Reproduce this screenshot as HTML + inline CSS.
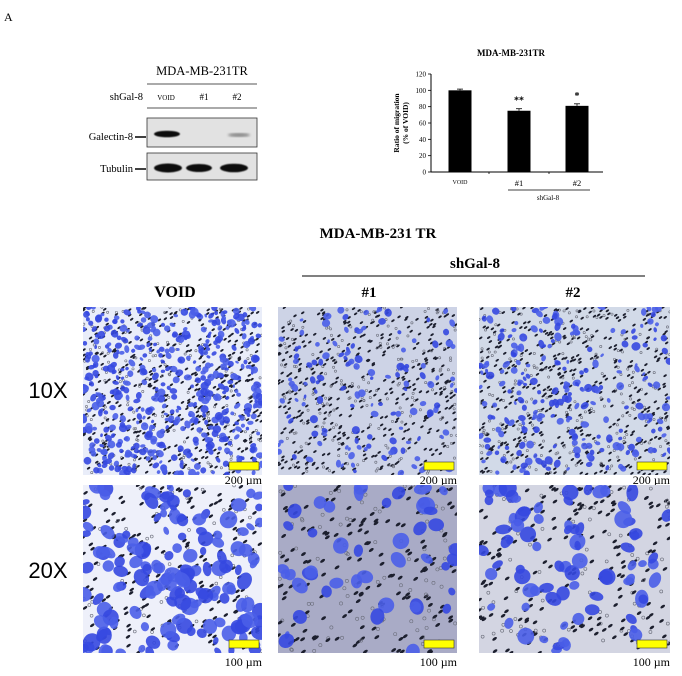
<!DOCTYPE html>
<html><head><meta charset="utf-8"><style>
html,body{margin:0;padding:0;background:#fff;}
body{width:682px;height:676px;position:relative;overflow:hidden;font-family:"Liberation Serif",serif;}
.t{position:absolute;white-space:nowrap;color:#000;}
</style></head><body>
<div class="t" style="left:4px;top:10px;font-size:12px;">A</div>

<svg width="682" height="676" style="position:absolute;left:0;top:0" font-family="Liberation Serif, serif">
  <defs>
    <filter id="blur1"><feGaussianBlur stdDeviation="1.2"/></filter>
    <filter id="blur2"><feGaussianBlur stdDeviation="0.6"/></filter>
  </defs>
  <text x="202" y="75" font-size="12.5" text-anchor="middle">MDA-MB-231TR</text>
  <line x1="147" y1="84" x2="257" y2="84" stroke="#555" stroke-width="1"/>
  <text x="143" y="100" font-size="10.5" text-anchor="end">shGal-8</text>
  <text x="166" y="100" font-size="7" text-anchor="middle">VOID</text>
  <text x="204" y="100" font-size="9" text-anchor="middle">#1</text>
  <text x="237" y="100" font-size="9" text-anchor="middle">#2</text>
  <line x1="147" y1="108" x2="257" y2="108" stroke="#555" stroke-width="1"/>
  <rect x="147" y="118" width="110" height="29" fill="#e2e2e2" stroke="#333" stroke-width="0.8"/>
  <rect x="147" y="153" width="110" height="27" fill="#e2e2e2" stroke="#333" stroke-width="0.8"/>
  <ellipse cx="167" cy="134" rx="13" ry="3.3" fill="#111" filter="url(#blur2)"/>
  <ellipse cx="239" cy="135" rx="11" ry="2" fill="#888" filter="url(#blur1)"/>
  <ellipse cx="168" cy="168" rx="14" ry="4.5" fill="#111" filter="url(#blur2)"/>
  <ellipse cx="199" cy="168" rx="13" ry="4" fill="#111" filter="url(#blur2)"/>
  <ellipse cx="234" cy="168" rx="14" ry="4.3" fill="#111" filter="url(#blur2)"/>
  <text x="133" y="140" font-size="10.5" text-anchor="end">Galectin-8</text>
  <line x1="135" y1="137" x2="146" y2="137" stroke="#000" stroke-width="1.5"/>
  <text x="133" y="172" font-size="10.5" text-anchor="end">Tubulin</text>
  <line x1="135" y1="169" x2="146" y2="169" stroke="#000" stroke-width="1.5"/>
</svg>

<svg id="bar" width="682" height="676" style="position:absolute;left:0;top:0" font-family="Liberation Serif, serif"></svg>

<svg id="micro" width="682" height="676" style="position:absolute;left:0;top:0" font-family="Liberation Serif, serif">
  <text x="378" y="238" font-size="15" font-weight="bold" text-anchor="middle">MDA-MB-231 TR</text>
  <text x="475" y="268" font-size="15" font-weight="bold" text-anchor="middle">shGal-8</text>
  <line x1="302" y1="276" x2="645" y2="276" stroke="#000" stroke-width="1"/>
  <text x="175" y="297" font-size="16" font-weight="bold" text-anchor="middle">VOID</text>
  <text x="369" y="297" font-size="15" font-weight="bold" text-anchor="middle">#1</text>
  <text x="573" y="297" font-size="15" font-weight="bold" text-anchor="middle">#2</text>
  <text x="48" y="398" font-size="22" font-family="Liberation Sans, sans-serif" text-anchor="middle">10X</text>
  <text x="48" y="578" font-size="22" font-family="Liberation Sans, sans-serif" text-anchor="middle">20X</text>
</svg>

<script>
// Bar chart data
const categories = ["VOID", "#1", "#2"];
const values = [100, 75, 81];
const errors = [1.5, 2.5, 2.5];
const stars = ["", "**", "*"];
const yTicks = [0, 20, 40, 60, 80, 100, 120];

const NS = "http://www.w3.org/2000/svg";
function mk(parent, tag, attrs, text){
  const e = document.createElementNS(NS, tag);
  for (const k in attrs) e.setAttribute(k, attrs[k]);
  if (text !== undefined) e.textContent = text;
  parent.appendChild(e);
  return e;
}
const bar = document.getElementById('bar');
const y0 = 172, yTop = 74, yMax = 120;
function yS(v){ return y0 - (v / yMax) * (y0 - yTop); }
const xLeft = 431, xRight = 603;
const centers = [460, 519, 577];
function xS(i){ return centers[i]; }

const title = mk(bar, 'text', {x: 511, y: 56, 'font-size': 9, 'font-weight': 'bold', 'text-anchor': 'middle'}, 'MDA-MB-231TR');



const yAxis = mk(bar, 'line', {x1: xLeft, y1: yTop, x2: xLeft, y2: y0, stroke: '#000', 'stroke-width': 1});


const xAxis = mk(bar, 'line', {x1: xLeft, y1: y0, x2: xRight, y2: y0, stroke: '#000', 'stroke-width': 1});



yTicks.forEach(v => {
  mk(bar, 'line', {x1: xLeft - 3, y1: yS(v), x2: xLeft, y2: yS(v), stroke: '#000', 'stroke-width': 0.8});
  const t = mk(bar, 'text', {x: xLeft - 5, y: yS(v) + 2.5, 'font-size': 7, 'text-anchor': 'end'}, String(v));
  
  
});
[489, 549].forEach(x => mk(bar, 'line', {x1: x, y1: y0, x2: x, y2: y0 + 2, stroke: '#000', 'stroke-width': 0.8}));

const yl = mk(bar, 'text', {transform: 'translate(399,123) rotate(-90)', 'font-size': 7.5, 'font-weight': 'bold', 'text-anchor': 'middle'}, 'Ratio of migration');


const yl2 = mk(bar, 'text', {transform: 'translate(408,123) rotate(-90)', 'font-size': 7.5, 'font-weight': 'bold', 'text-anchor': 'middle'}, '(%  of VOID)');



categories.forEach((c, i) => {
  const cx = xS(i), w = 23;
  const r = mk(bar, 'rect', {x: cx - w/2, y: yS(values[i]), width: w, height: y0 - yS(values[i]), fill: '#000'});
  
  
  const e = mk(bar, 'line', {x1: cx, y1: yS(values[i] + errors[i]), x2: cx, y2: yS(values[i]), stroke: '#000', 'stroke-width': 0.8});
  
  
  mk(bar, 'line', {x1: cx - 3, y1: yS(values[i] + errors[i]), x2: cx + 3, y2: yS(values[i] + errors[i]), stroke: '#000', 'stroke-width': 0.8});
  if (stars[i]) {
    const s = mk(bar, 'text', {x: cx, y: yS(values[i] + errors[i]) - 5, 'font-size': 10, 'font-weight': 'bold', 'text-anchor': 'middle'}, stars[i]);
    
    
  }
  const lab = mk(bar, 'text', {x: cx, y: i === 0 ? 184 : 186, 'font-size': i === 0 ? 6 : 8.5, 'text-anchor': 'middle'}, c);
  
  
});
mk(bar, 'line', {x1: 508, y1: 190, x2: 590, y2: 190, stroke: '#000', 'stroke-width': 0.8});
const sg = mk(bar, 'text', {x: 548, y: 200, 'font-size': 7, 'text-anchor': 'middle'}, 'shGal-8');



// Microscopy panels (decorative texture)
const micro = document.getElementById('micro');
let seed = 12345;
function rnd(){ seed = (seed * 1103515245 + 12345) & 0x7fffffff; return seed / 0x7fffffff; }
const panels = [
  {x:83,y:307,w:179,h:168,bg:'#e9edf9',cells:480,cr:3.0,pores:650,pr:1.4,name:'void-10x',sb:'200 µm'},
  {x:278,y:307,w:179,h:168,bg:'#cdd3e6',cells:130,cr:3.0,pores:600,pr:1.4,name:'sh1-10x',sb:'200 µm'},
  {x:479,y:307,w:191,h:168,bg:'#d2dae8',cells:230,cr:3.1,pores:650,pr:1.4,name:'sh2-10x',sb:'200 µm'},
  {x:83,y:485,w:179,h:168,bg:'#eef0fa',cells:150,cr:6.5,pores:260,pr:1.8,name:'void-20x',sb:'100 µm'},
  {x:278,y:485,w:179,h:168,bg:'#a9abc6',cells:45,cr:6.5,pores:240,pr:2.0,name:'sh1-20x',sb:'100 µm'},
  {x:479,y:485,w:191,h:168,bg:'#d3d5e2',cells:80,cr:6.5,pores:260,pr:1.9,name:'sh2-20x',sb:'100 µm'}
];
panels.forEach(p => {
  const g = mk(micro, 'g', {});
  
  
  const cid = 'clip-' + p.name;
  const cp = mk(micro, 'clipPath', {id: cid});
  mk(cp, 'rect', {x: p.x, y: p.y, width: p.w, height: p.h});
  g.setAttribute('clip-path', 'url(#' + cid + ')');
  mk(g, 'rect', {x: p.x, y: p.y, width: p.w, height: p.h, fill: p.bg});
  for (let k = 0; k < p.pores; k++) {
    const px = p.x + rnd() * p.w, py = p.y + rnd() * p.h;
    const dark = rnd() < 0.7;
    if (dark) {
      mk(g, 'ellipse', {cx: px, cy: py, rx: p.pr * 1.4, ry: p.pr * 0.7, fill: '#1c1f2e', transform: 'rotate(-35 ' + px + ' ' + py + ')'});
    } else {
      mk(g, 'circle', {cx: px, cy: py, r: p.pr * 0.8, fill: 'none', stroke: '#6a6d7a', 'stroke-width': 0.6});
    }
  }
  for (let k = 0; k < p.cells; k++) {
    const cx = p.x + rnd() * p.w, cy = p.y + rnd() * p.h;
    const r = p.cr * (0.6 + rnd() * 0.8);
    mk(g, 'ellipse', {cx: cx, cy: cy, rx: r, ry: r * (0.6 + rnd() * 0.5), fill: rnd() < 0.5 ? '#3548e0' : '#4a5ee8', opacity: 0.9, transform: 'rotate(' + Math.floor(rnd() * 180) + ' ' + cx + ' ' + cy + ')'});
  }
  const sb = mk(micro, 'rect', {x: p.x + p.w - 33, y: p.y + p.h - 13, width: 30, height: 8, fill: '#ffff00', stroke: '#333', 'stroke-width': 0.6});
  
  
  const st = mk(micro, 'text', {x: p.x + p.w, y: p.y + p.h + (p.y < 400 ? 9 : 13), 'font-size': 12, 'text-anchor': 'end'}, p.sb);
  
  
});
</script>
</body></html>
